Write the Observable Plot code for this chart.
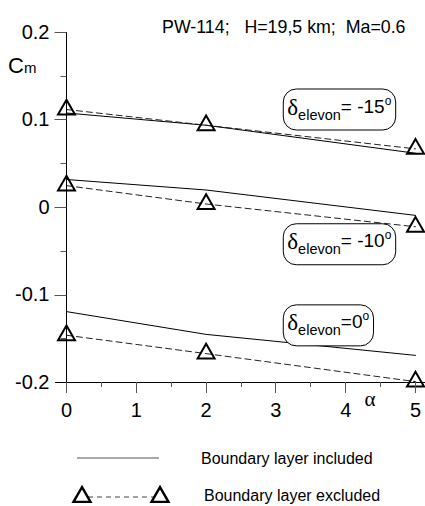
<!DOCTYPE html>
<html><head><meta charset="utf-8">
<script src="https://cdn.jsdelivr.net/npm/d3@7"></script>
<script src="https://cdn.jsdelivr.net/npm/@observablehq/plot@0.6"></script>
<style>
body{margin:0;background:#fff;font-family:Arial,"Liberation Sans",sans-serif;}
#wrap{position:relative;width:425px;height:430px}
#overlay{position:absolute;left:0;top:0;pointer-events:none}
</style></head><body><div id="chart"><div id="wrap"></div></div>
<script>
// ---- data ----
const alpha = [0, 2, 5];
const elevonAngles = ["-15", "-10", "0"];
const cmIncluded = [
  [0.108, 0.094, 0.062],    // δ = -15°
  [0.032, 0.020, -0.009],   // δ = -10°
  [-0.119, -0.145, -0.169]  // δ = 0°
];
const cmExcluded = [
  [0.112, 0.094, 0.067],
  [0.025, 0.004, -0.022],
  [-0.146, -0.167, -0.199]
];
const xTicks = [0, 1, 2, 3, 4, 5];
const xMinorTicks = [0.5, 1.5, 2.5, 3.5, 4.5];
const yTicks = [-0.2, -0.1, 0, 0.1, 0.2];
const yTickLabels = ["-0.2", "-0.1", "0", "0.1", "0.2"];
const yMinorTicks = [-0.15, -0.05, 0.05, 0.15];
const annotLabels = ["= -15", "= -10", "=0"];
const annotAlpha = [3.17, 3.17, 3.17];
const annotCm = [0.108, -0.046, -0.1387];
const titleText = "PW-114;   H=19,5 km;  Ma=0.6";
const legendLabels = ["Boundary layer included", "Boundary layer excluded"];

// ---- tables ----
const incRows = elevonAngles.flatMap((d, s) => alpha.map((a, i) => ({delta: d, alpha: a, cm: cmIncluded[s][i]})));
const excRows = elevonAngles.flatMap((d, s) => alpha.map((a, i) => ({delta: d, alpha: a, cm: cmExcluded[s][i]})));
const annots = elevonAngles.map((d, i) => ({x: annotAlpha[i], y: annotCm[i], label: annotLabels[i]}));

const serif = "'Liberation Serif','DejaVu Serif',serif";

function richText(parts, x, y, g) {
  const t = g.append("text").attr("x", x).attr("y", y).attr("fill", "black").attr("text-anchor", "start");
  let prev = 0;
  for (const p of parts) {
    t.append("tspan").attr("dy", p.shift - prev).attr("font-size", p.size)
      .attr("font-family", p.fam || null).text(p.t);
    prev = p.shift;
  }
  return t;
}

const chart = Plot.plot({
  width: 425, height: 430,
  marginLeft: 66, marginRight: 10, marginTop: 32, marginBottom: 48,
  style: {fontFamily: "Arial,'Liberation Sans',sans-serif", background: "white", color: "black"},
  x: {domain: [0, 5]},
  y: {domain: [-0.2, 0.2]},
  marks: [
    Plot.axisY({ticks: yTicks, tickSize: 0, tickPadding: 17, fontSize: 20, fill: "black",
      tickFormat: d => yTickLabels[yTicks.findIndex(v => Math.abs(v - d) < 1e-9)], label: null}),
    Plot.axisX({ticks: xTicks, tickSize: 0, tickPadding: 20, fontSize: 20, fill: "black", tickFormat: d => String(d), label: null}),
    Plot.ruleY([-0.2], {stroke: "black", strokeWidth: 1, insetLeft: -11, insetRight: -10}),
    Plot.line(incRows, {x: "alpha", y: "cm", z: "delta", stroke: "black", strokeWidth: 1}),
    Plot.line(excRows, {x: "alpha", y: "cm", z: "delta", stroke: "#222", strokeWidth: 1, strokeDasharray: "6,4"}),
    Plot.dot(excRows, {x: "alpha", y: "cm", symbol: "triangle", r: 6.3, stroke: "black", strokeWidth: 2, fill: "none"}),
    Plot.text([titleText], {frameAnchor: "top-right", dx: -10, dy: -12, fontSize: 17.8, textAnchor: "end", fill: "black"}),
    Plot.text(["α"], {frameAnchor: "bottom-right", dx: -40, dy: 23, fontSize: 21, fontFamily: serif, fill: "black"}),
    Plot.text(["Cm"], {frameAnchor: "top-left", render: (index, scales, values, dims) => {
      const g = d3.create("svg:g");
      richText([{t: "C", size: 22, shift: 0}, {t: "m", size: 15, shift: 0}], dims.marginLeft - 58, dims.marginTop + 41, g);
      return g.node();
    }}),
    Plot.text(annots, {x: "x", y: "y", text: "label", render: (index, scales, values) => {
      const g = d3.create("svg:g").attr("class", "annot");
      for (const i of index) {
        const gi = g.append("g").attr("data-y", values.y[i]);
        richText([
          {t: "δ", size: 23, fam: serif, shift: 2},
          {t: "elevon", size: 14.5, shift: 7},
          {t: annots[i].label, size: 19, shift: 0},
          {t: "o", size: 12, shift: -8}
        ], values.x[i], values.y[i], gi);
      }
      return g.node();
    }})
  ]
});
document.getElementById("wrap").append(chart);

// rounded boxes around annotations
d3.select(chart).selectAll("g.annot > g").each(function() {
  const gi = d3.select(this);
  const t = gi.select("text").node();
  const bb = t.getBBox();
  const base = +gi.attr("data-y");
  gi.insert("rect", "text").attr("x", bb.x - 4).attr("y", base - 23.5)
    .attr("width", bb.width + 8).attr("height", 41).attr("rx", 13).attr("ry", 13)
    .attr("fill", "white").attr("stroke", "black").attr("stroke-width", 1);
});

// axis line and ticks, placed through Plot's own scales
const X = v => chart.scale("x").apply(v);
const Y = v => chart.scale("y").apply(v);
const ov = d3.select("#wrap").append("svg").attr("id", "overlay").attr("width", 425).attr("height", 430);
const x0 = Math.round(X(0)) + 0.5, yb = Math.round(Y(-0.2));
ov.append("line").attr("x1", x0).attr("x2", x0).attr("y1", Y(0.2)).attr("y2", yb).attr("stroke", "black");
xTicks.forEach(v => ov.append("line").attr("x1", Math.round(X(v)) + 0.5).attr("x2", Math.round(X(v)) + 0.5)
  .attr("y1", yb).attr("y2", yb + 11).attr("stroke", "#555"));
xMinorTicks.forEach(v => ov.append("line").attr("x1", Math.round(X(v)) + 0.5).attr("x2", Math.round(X(v)) + 0.5)
  .attr("y1", yb).attr("y2", yb + 5).attr("stroke", "#555"));
yTicks.slice(1).forEach(v => ov.append("line").attr("x1", x0 - 12).attr("x2", x0)
  .attr("y1", Math.round(Y(v)) + 0.5).attr("y2", Math.round(Y(v)) + 0.5).attr("stroke", "#555"));
yMinorTicks.forEach(v => ov.append("line").attr("x1", x0 - 6).attr("x2", x0)
  .attr("y1", Math.round(Y(v)) + 0.5).attr("y2", Math.round(Y(v)) + 0.5).attr("stroke", "#555"));

// legend below
const leg = d3.select("#chart").append("svg").attr("width", 425).attr("height", 76)
  .style("display", "block")
  .style("font-family", "Arial,'Liberation Sans',sans-serif");
leg.append("line").attr("x1", 77).attr("x2", 159).attr("y1", 28).attr("y2", 28).attr("stroke", "#555").attr("stroke-width", 1.2);
leg.append("text").attr("x", 201).attr("y", 34).attr("font-size", 16).text(legendLabels[0]);
leg.append("line").attr("x1", 88).attr("x2", 154).attr("y1", 67).attr("y2", 67).attr("stroke", "#444").attr("stroke-dasharray", "5,4");
const tri = d3.symbol(d3.symbolTriangle, Math.PI * 6.3 * 6.3);
[82, 160].forEach(x => leg.append("path").attr("d", tri()).attr("transform", `translate(${x},${67})`)
  .attr("fill", "none").attr("stroke", "black").attr("stroke-width", 2.4));
leg.append("text").attr("x", 204).attr("y", 71).attr("font-size", 16).text(legendLabels[1]);
</script></body></html>
